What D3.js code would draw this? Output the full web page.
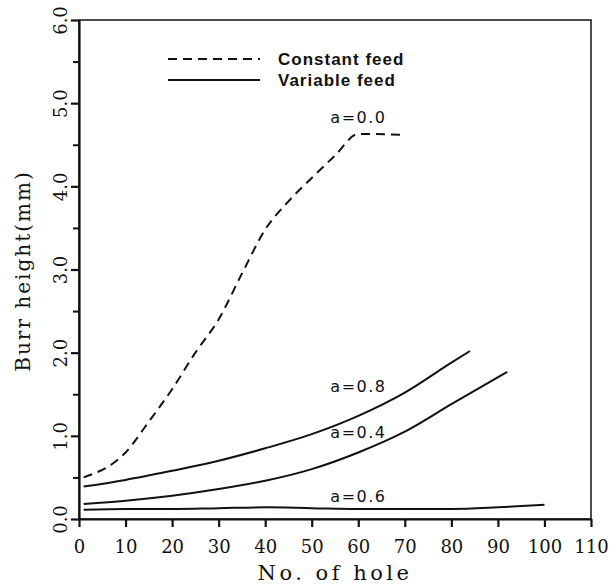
<!DOCTYPE html>
<html>
<head>
<meta charset="utf-8">
<script src="https://d3js.org/d3.v7.min.js"></script>
<style>
  body { margin: 0; background: #fff; }
  svg { display: block; }
  .axis path, .axis line { stroke: #111; }
  .axis text { font-family: "DejaVu Serif", serif; font-size: 18px; fill: #111; }
</style>
</head>
<body>
<svg id="chart" width="609" height="588"></svg>
<script>
// data: [No. of hole, burr height (mm)]
const constantFeed = [[1, 0.5], [10, 0.8], [15, 1.17], [20, 1.56], [25, 2.0], [30, 2.4], [35, 2.95], [40, 3.48], [45, 3.82], [50, 4.1], [55, 4.37], [60, 4.63], [70, 4.62]];
const variableA08 = [[1, 0.39], [10, 0.47], [20, 0.58], [30, 0.7], [40, 0.85], [50, 1.02], [60, 1.24], [70, 1.52], [80, 1.88], [84, 2.02]];
const variableA04 = [[1, 0.18], [10, 0.22], [20, 0.28], [30, 0.36], [40, 0.46], [50, 0.6], [60, 0.8], [70, 1.05], [80, 1.38], [92, 1.77]];
const variableA06 = [[1, 0.11], [10, 0.12], [20, 0.12], [30, 0.13], [40, 0.14], [50, 0.13], [60, 0.12], [70, 0.12], [80, 0.12], [90, 0.14], [100, 0.17]];

const xTicks = [0, 10, 20, 30, 40, 50, 60, 70, 80, 90, 100, 110];
const yTicks = [0, 1, 2, 3, 4, 5, 6];
const yMinorTicks = [0.5, 1.5, 2.5, 3.5, 4.5, 5.5];

const curveLabels = [
  { text: "a=0.0", x: 54, y: 4.76 },
  { text: "a=0.8", x: 54, y: 1.53 },
  { text: "a=0.4", x: 54, y: 0.97 },
  { text: "a=0.6", x: 54, y: 0.2 }
];
const legendItems = [
  { name: "Constant feed", dash: "9,6" },
  { name: "Variable feed", dash: null }
];

const svg = d3.select("#chart");
const mLeft = 79, mRight = 591, mTop = 20, mBottom = 519;

const x = d3.scaleLinear().domain([0, 110]).range([mLeft, mRight]);
const y = d3.scaleLinear().domain([0, 6]).range([mBottom, mTop]);

// frame (top + right borders)
svg.append("rect")
  .attr("x", mLeft).attr("y", mTop)
  .attr("width", mRight - mLeft).attr("height", mBottom - mTop)
  .attr("fill", "none").attr("stroke", "#111").attr("stroke-width", 1.5);

// x axis
const gx = svg.append("g").attr("class", "axis")
  .attr("transform", `translate(0,${mBottom})`)
  .call(d3.axisBottom(x).tickValues(xTicks).tickSize(8).tickPadding(13).tickSizeOuter(0));
gx.selectAll("path, line").attr("stroke-width", 2.2);

// y axis, rotated labels
const gy = svg.append("g").attr("class", "axis")
  .attr("transform", `translate(${mLeft},0)`)
  .call(d3.axisLeft(y).tickValues(yTicks).tickSize(8).tickSizeOuter(0).tickFormat(d3.format(".1f")));
gy.selectAll("path, line").attr("stroke-width", 2.2);
gy.selectAll("text")
  .attr("x", null).attr("dy", null)
  .attr("text-anchor", "middle")
  .attr("transform", "translate(-12,0) rotate(-90)");

svg.append("g").attr("class", "axis")
  .attr("transform", `translate(${mLeft},0)`)
  .call(d3.axisLeft(y).tickValues(yMinorTicks).tickSize(6).tickFormat(""))
  .call(g => g.select(".domain").remove())
  .selectAll("line").attr("stroke-width", 2);

// axis titles
svg.append("text")
  .attr("x", 335).attr("y", 580)
  .attr("text-anchor", "middle")
  .attr("font-family", "DejaVu Serif, serif").attr("font-size", 21)
  .attr("letter-spacing", 3.5).attr("fill", "#111")
  .text("No. of hole");

svg.append("text")
  .attr("transform", "translate(30,271) rotate(-90)")
  .attr("text-anchor", "middle")
  .attr("font-family", "DejaVu Serif, serif").attr("font-size", 20)
  .attr("letter-spacing", 2).attr("fill", "#111")
  .text("Burr height(mm)");

// curves
const line = d3.line().x(d => x(d[0])).y(d => y(d[1])).curve(d3.curveMonotoneX);

svg.append("path").datum(constantFeed)
  .attr("d", line).attr("fill", "none")
  .attr("stroke", "#111").attr("stroke-width", 2)
  .attr("stroke-dasharray", "9,6");

[variableA08, variableA04, variableA06].forEach(s => {
  svg.append("path").datum(s)
    .attr("d", line).attr("fill", "none")
    .attr("stroke", "#111").attr("stroke-width", 2);
});

// curve labels
svg.selectAll(".clabel").data(curveLabels).enter().append("text")
  .attr("class", "clabel")
  .attr("x", d => x(d.x)).attr("y", d => y(d.y))
  .attr("font-family", "DejaVu Sans, sans-serif").attr("font-size", 16)
  .attr("letter-spacing", 1.5).attr("fill", "#111")
  .text(d => d.text);

// legend
const lg = svg.append("g");
legendItems.forEach((d, i) => {
  const ly = 59 + i * 21;
  lg.append("line")
    .attr("x1", 168).attr("x2", 260).attr("y1", ly).attr("y2", ly)
    .attr("stroke", "#111").attr("stroke-width", 2)
    .attr("stroke-dasharray", d.dash);
  lg.append("text")
    .attr("x", 278).attr("y", ly + 6)
    .attr("font-family", "Liberation Sans, Arial, sans-serif")
    .attr("font-size", 17).attr("font-weight", "bold")
    .attr("letter-spacing", 1).attr("fill", "#111")
    .text(d.name);
});
</script>
</body>
</html>
